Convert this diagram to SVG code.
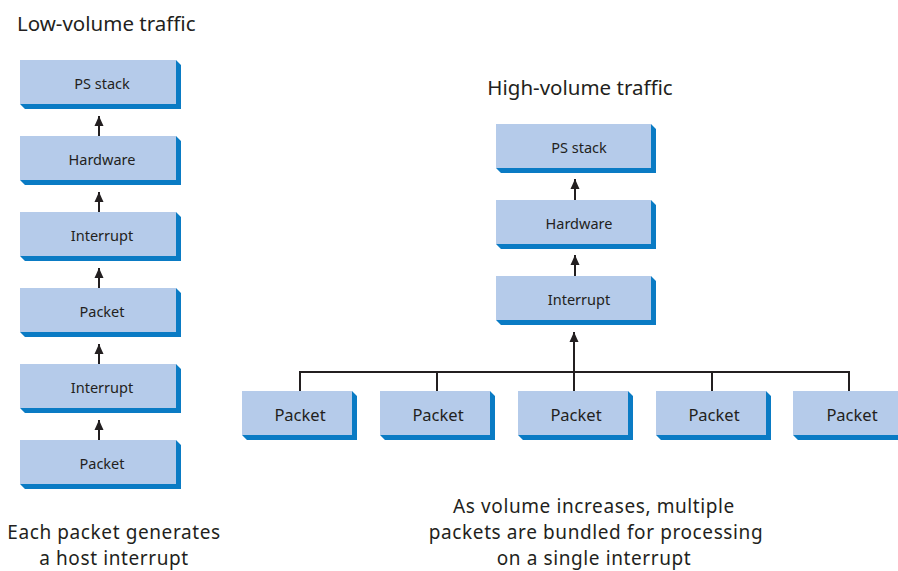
<svg xmlns="http://www.w3.org/2000/svg" width="898" height="571" viewBox="0 0 898 571">
<defs>
<style>
.face{fill:#b5cbea}
.sh{fill:#0a7bc4}
.t{font-family:"Noto Sans","Open Sans",sans-serif;fill:#231f20}
.lbl{font-size:14.5px;text-anchor:middle}
.lbl2{font-size:16.5px;text-anchor:middle}
.ttl{font-size:20.5px}
.cap{font-size:19px;letter-spacing:0.6px;text-anchor:middle}
.ln{stroke:#231f20;stroke-width:2;fill:none}
</style>
<marker id="ah" viewBox="0 0 10 10" refX="10" refY="5" markerWidth="10" markerHeight="10" markerUnits="userSpaceOnUse" orient="auto">
<path d="M0,0.5 L10,5 L0,9.5 Z" fill="#231f20"/>
</marker>
</defs>
<rect width="898" height="571" fill="#ffffff"/>
<text class="t ttl" x="17" y="31">Low-volume traffic</text>
<text class="t ttl" x="580" y="95" text-anchor="middle">High-volume traffic</text>
<text class="t cap"><tspan x="114" y="539">Each packet generates</tspan><tspan x="114" y="565">a host interrupt</tspan></text>
<text class="t cap"><tspan x="594" y="513">As volume increases, multiple</tspan><tspan x="596" y="539">packets are bundled for processing</tspan><tspan x="594" y="565">on a single interrupt</tspan></text>

<g id="connectors">
<line class="ln" x1="99" y1="136" x2="99" y2="116" marker-end="url(#ah)"/>
<line class="ln" x1="99" y1="212" x2="99" y2="192" marker-end="url(#ah)"/>
<line class="ln" x1="99" y1="288" x2="99" y2="268" marker-end="url(#ah)"/>
<line class="ln" x1="99" y1="364" x2="99" y2="344" marker-end="url(#ah)"/>
<line class="ln" x1="99" y1="440" x2="99" y2="420" marker-end="url(#ah)"/>
<line class="ln" x1="575" y1="200" x2="575" y2="179" marker-end="url(#ah)"/>
<line class="ln" x1="575" y1="276" x2="575" y2="255" marker-end="url(#ah)"/>
<line class="ln" x1="574" y1="391" x2="574" y2="332" marker-end="url(#ah)"/>
<polyline class="ln" points="300,391 300,372 849,372 849,391"/>
<line class="ln" x1="437" y1="372" x2="437" y2="391"/>
<line class="ln" x1="712" y1="372" x2="712" y2="391"/>
</g>

<g id="l-psstack">
<polygon class="sh" points="176,60 181,65 181,109 25,109 20,104 176,104"/>
<rect class="face" x="20" y="60" width="156" height="44"/>
<text class="t lbl" x="102" y="89">PS stack</text>
</g>
<g id="l-hardware">
<polygon class="sh" points="176,136 181,141 181,185 25,185 20,180 176,180"/>
<rect class="face" x="20" y="136" width="156" height="44"/>
<text class="t lbl" x="102" y="165">Hardware</text>
</g>
<g id="l-interrupt1">
<polygon class="sh" points="176,212 181,217 181,261 25,261 20,256 176,256"/>
<rect class="face" x="20" y="212" width="156" height="44"/>
<text class="t lbl" x="102" y="241">Interrupt</text>
</g>
<g id="l-packet1">
<polygon class="sh" points="176,288 181,293 181,337 25,337 20,332 176,332"/>
<rect class="face" x="20" y="288" width="156" height="44"/>
<text class="t lbl" x="102" y="317">Packet</text>
</g>
<g id="l-interrupt2">
<polygon class="sh" points="176,364 181,369 181,413 25,413 20,408 176,408"/>
<rect class="face" x="20" y="364" width="156" height="44"/>
<text class="t lbl" x="102" y="393">Interrupt</text>
</g>
<g id="l-packet2">
<polygon class="sh" points="176,440 181,445 181,489 25,489 20,484 176,484"/>
<rect class="face" x="20" y="440" width="156" height="44"/>
<text class="t lbl" x="102" y="469">Packet</text>
</g>

<g id="r-psstack">
<polygon class="sh" points="651,124 656,129 656,173 501,173 496,168 651,168"/>
<rect class="face" x="496" y="124" width="155" height="44"/>
<text class="t lbl" x="579" y="153">PS stack</text>
</g>
<g id="r-hardware">
<polygon class="sh" points="651,200 656,205 656,249 501,249 496,244 651,244"/>
<rect class="face" x="496" y="200" width="155" height="44"/>
<text class="t lbl" x="579" y="229">Hardware</text>
</g>
<g id="r-interrupt">
<polygon class="sh" points="651,276 656,281 656,325 501,325 496,320 651,320"/>
<rect class="face" x="496" y="276" width="155" height="44"/>
<text class="t lbl" x="579" y="305">Interrupt</text>
</g>

<g id="p1">
<polygon class="sh" points="352,391 357,396 357,440 247,440 242,435 352,435"/>
<rect class="face" x="242" y="391" width="110" height="44"/>
<text class="t lbl2" x="300" y="421">Packet</text>
</g>
<g id="p2">
<polygon class="sh" points="490,391 495,396 495,440 385,440 380,435 490,435"/>
<rect class="face" x="380" y="391" width="110" height="44"/>
<text class="t lbl2" x="438" y="421">Packet</text>
</g>
<g id="p3">
<polygon class="sh" points="628,391 633,396 633,440 523,440 518,435 628,435"/>
<rect class="face" x="518" y="391" width="110" height="44"/>
<text class="t lbl2" x="576" y="421">Packet</text>
</g>
<g id="p4">
<polygon class="sh" points="766,391 771,396 771,440 661,440 656,435 766,435"/>
<rect class="face" x="656" y="391" width="110" height="44"/>
<text class="t lbl2" x="714" y="421">Packet</text>
</g>
<g id="p5">
<polygon class="sh" points="903,391 908,396 908,440 798,440 793,435 903,435"/>
<rect class="face" x="793" y="391" width="110" height="44"/>
<text class="t lbl2" x="852" y="421">Packet</text>
</g>
</svg>
